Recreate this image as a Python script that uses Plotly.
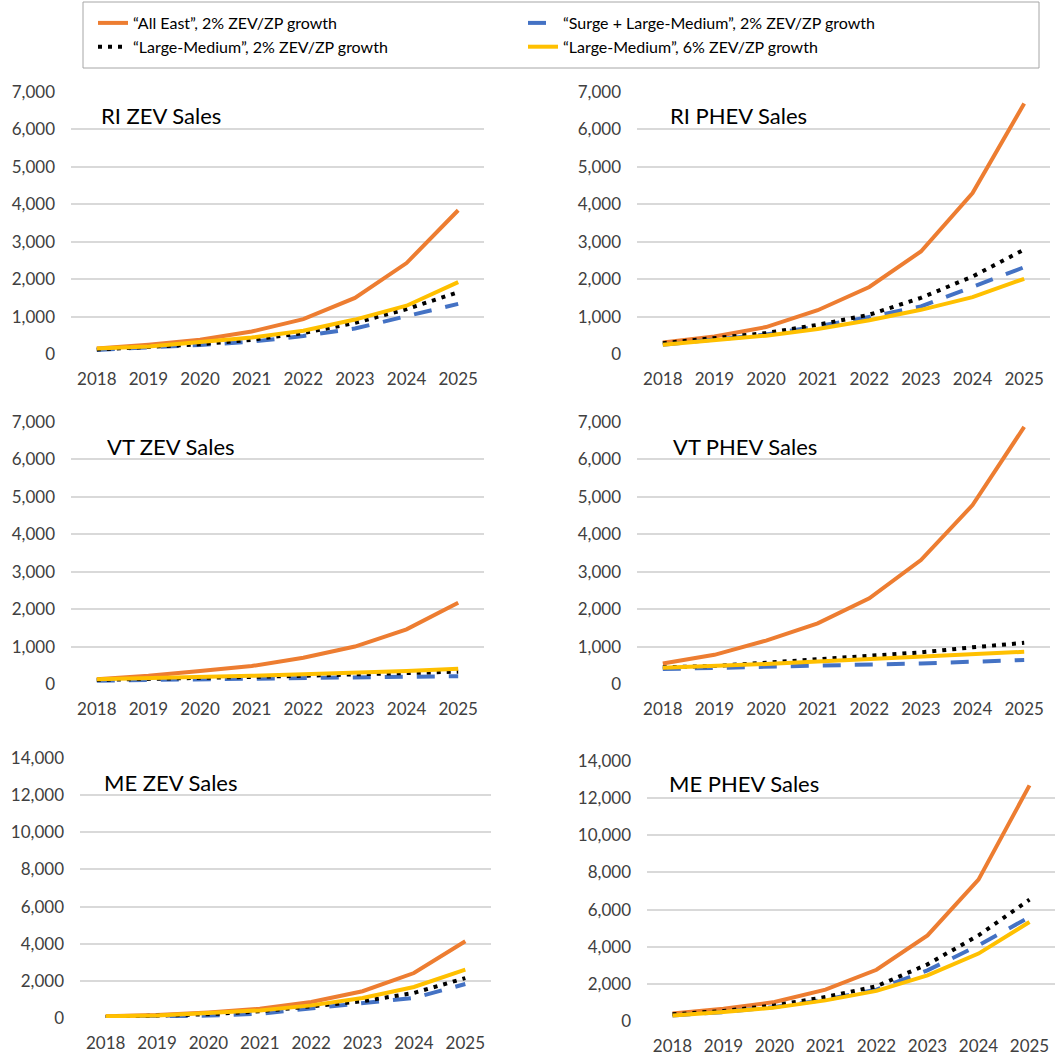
import plotly.graph_objects as go

# ---- data -------------------------------------------------------------
years = [2018, 2019, 2020, 2021, 2022, 2023, 2024, 2025]

series_names = [
    "\u201cAll East\u201d, 2% ZEV/ZP growth",
    "\u201cSurge + Large-Medium\u201d, 2% ZEV/ZP growth",
    "\u201cLarge-Medium\u201d, 2% ZEV/ZP growth",
    "\u201cLarge-Medium\u201d, 6% ZEV/ZP growth",
]

panel_titles = ["RI ZEV Sales", "RI PHEV Sales", "VT ZEV Sales",
                "VT PHEV Sales", "ME ZEV Sales", "ME PHEV Sales"]

# RI ZEV
ri_zev_all_east = [150, 250, 380, 600, 930, 1500, 2430, 3840]
ri_zev_surge = [110, 170, 240, 330, 480, 680, 1000, 1340]
ri_zev_lm2 = [120, 180, 260, 380, 560, 830, 1200, 1650]
ri_zev_lm6 = [150, 200, 320, 440, 620, 920, 1290, 1920]

# RI PHEV
ri_phev_all_east = [310, 470, 720, 1170, 1790, 2740, 4300, 6690]
ri_phev_surge = [250, 380, 520, 740, 990, 1270, 1800, 2320]
ri_phev_lm2 = [290, 430, 560, 780, 1050, 1500, 2070, 2790]
ri_phev_lm6 = [250, 365, 490, 670, 900, 1180, 1520, 2010]

# VT ZEV
vt_zev_all_east = [125, 220, 350, 480, 700, 1000, 1460, 2170]
vt_zev_surge = [90, 110, 130, 145, 160, 170, 185, 210]
vt_zev_lm2 = [110, 130, 160, 190, 220, 250, 285, 330]
vt_zev_lm6 = [125, 150, 195, 220, 260, 300, 350, 410]

# VT PHEV
vt_phev_all_east = [550, 780, 1160, 1620, 2290, 3310, 4780, 6870]
vt_phev_surge = [400, 425, 455, 480, 515, 550, 595, 640]
vt_phev_lm2 = [445, 480, 570, 660, 750, 845, 980, 1100]
vt_phev_lm6 = [435, 480, 535, 600, 660, 730, 790, 860]

# ME ZEV
me_zev_all_east = [90, 160, 300, 500, 860, 1440, 2420, 4130]
me_zev_surge = [40, 80, 130, 230, 520, 760, 1080, 1830]
me_zev_lm2 = [55, 110, 200, 360, 630, 900, 1350, 2150]
me_zev_lm6 = [90, 140, 270, 410, 680, 1080, 1670, 2600]

# ME PHEV
me_phev_all_east = [400, 660, 1020, 1690, 2760, 4610, 7610, 12690]
me_phev_surge = [300, 480, 750, 1150, 1690, 2730, 4070, 5600]
me_phev_lm2 = [360, 540, 840, 1290, 1870, 3050, 4610, 6530]
me_phev_lm6 = [300, 480, 720, 1110, 1620, 2460, 3630, 5330]

y_max = [7000, 7000, 7000, 7000, 14000, 14000]
y_step = [1000, 1000, 1000, 1000, 2000, 2000]

panels = [
    [ri_zev_all_east, ri_zev_surge, ri_zev_lm2, ri_zev_lm6],
    [ri_phev_all_east, ri_phev_surge, ri_phev_lm2, ri_phev_lm6],
    [vt_zev_all_east, vt_zev_surge, vt_zev_lm2, vt_zev_lm6],
    [vt_phev_all_east, vt_phev_surge, vt_phev_lm2, vt_phev_lm6],
    [me_zev_all_east, me_zev_surge, me_zev_lm2, me_zev_lm6],
    [me_phev_all_east, me_phev_surge, me_phev_lm2, me_phev_lm6],
]

# ---- styling ----------------------------------------------------------
W, H = 1055, 1057
FONT = "Lato"
line_styles = [
    dict(color="#ED7D31", width=4),
    dict(color="#4472C4", width=4, dash="18px,14px"),
    dict(color="#000000", width=4, dash="4px,6px"),
    dict(color="#FFC000", width=4),
]

# plot-area boxes in pixels: (left, right, top, bottom)
boxes = [
    (71, 484, 92, 354),
    (637, 1050, 92, 354),
    (71, 484, 422, 684),
    (637, 1050, 422, 684),
    (80, 491, 758, 1018),
    (647, 1055, 761, 1021),
]
title_pos = [(99, 116), (668, 116), (105, 446), (671, 446), (102, 782), (667, 783)]

fig = go.Figure()
layout = dict(
    width=W, height=H,
    margin=dict(l=0, r=0, t=0, b=0, autoexpand=False),
    paper_bgcolor="white", plot_bgcolor="white",
    font=dict(family=FONT, color="#404040"),
    showlegend=True,
)

annotations = []
for i, (vals, box) in enumerate(zip(panels, boxes)):
    n = i + 1
    xa = "x" if n == 1 else f"x{n}"
    ya = "y" if n == 1 else f"y{n}"
    for k, (name, ys) in enumerate(zip(series_names, vals)):
        fig.add_trace(go.Scatter(
            x=years, y=ys, mode="lines", name=name,
            line=line_styles[k], legendgroup=name,
            showlegend=(i == 0), xaxis=xa, yaxis=ya,
        ))
    l, r, t, b = box
    xkey = "xaxis" if n == 1 else f"xaxis{n}"
    ykey = "yaxis" if n == 1 else f"yaxis{n}"
    layout[xkey] = dict(
        domain=[l / W, r / W], anchor=ya, range=[2017.5, 2025.5],
        tickvals=years, showgrid=False, zeroline=False, showline=False,
        ticks="", ticklabelstandoff=13,
        tickfont=dict(family=FONT, size=17, color="#404040"),
    )
    layout[ykey] = dict(
        domain=[1 - b / H, 1 - t / H], anchor=xa, range=[0, y_max[i]],
        dtick=y_step[i], tickformat=",", showgrid=True,
        gridcolor="#D9D9D9", gridwidth=1.5, zeroline=False, showline=False,
        ticks="", ticklabelstandoff=15,
        tickfont=dict(family=FONT, size=17, color="#404040"),
    )
    tx, ty = title_pos[i]
    annotations.append(dict(
        text=panel_titles[i], x=tx / W, y=1 - ty / H, xref="paper", yref="paper",
        xanchor="left", yanchor="middle", showarrow=False,
        font=dict(family=FONT, size=22, color="#000000"),
    ))

layout["annotations"] = annotations
layout["legend"] = dict(
    orientation="h", x=93 / W, y=1 - 6 / H, xanchor="left", yanchor="top",
    entrywidth=385, entrywidthmode="pixels", traceorder="normal",
    font=dict(family=FONT, size=16, color="#000000"),
    bgcolor="rgba(0,0,0,0)", borderwidth=0,
)
layout["shapes"] = [dict(
    type="rect", xref="paper", yref="paper",
    x0=83 / W, x1=1039 / W, y0=1 - 68 / H, y1=1 - 2 / H,
    line=dict(color="#A6A6A6", width=1), fillcolor="rgba(0,0,0,0)",
)]

fig.update_layout(**layout)
fig.write_html("out.html")
